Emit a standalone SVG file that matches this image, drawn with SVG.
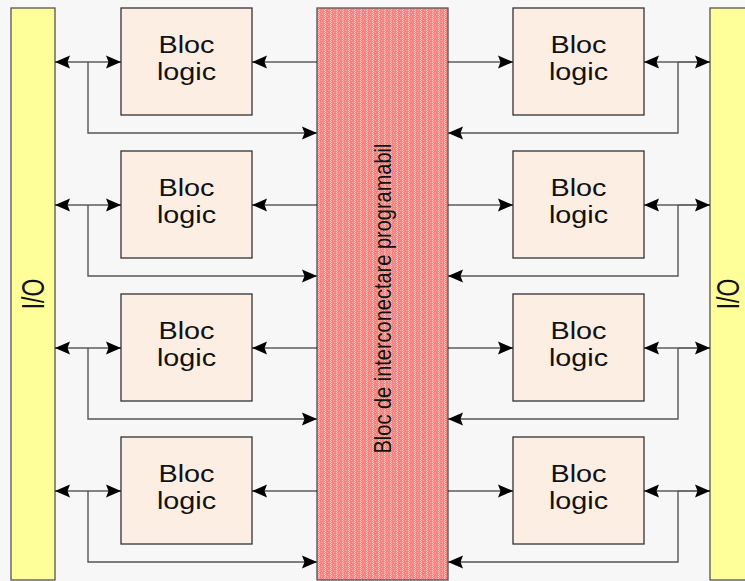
<svg xmlns="http://www.w3.org/2000/svg" width="745" height="581" viewBox="0 0 745 581">
<defs>
<style>
.io{fill:#ffff99;stroke:#555;stroke-width:1.3}
.blk{fill:#fdeee4;stroke:#333;stroke-width:1.3}
.bt{font-family:"Liberation Sans",Arial,sans-serif;font-size:24px;fill:#111;text-anchor:middle}
.iot{font-family:"Liberation Sans",Arial,sans-serif;font-size:23px;fill:#111;text-anchor:middle}
.ct{font-family:"Liberation Sans",Arial,sans-serif;font-size:20px;fill:#111;text-anchor:middle}
.ln{fill:none;stroke:#111;stroke-width:1.2}
.fb{fill:none;stroke:#555;stroke-width:1.4}
</style>
<marker id="ah" markerUnits="userSpaceOnUse" markerWidth="16" markerHeight="14" refX="15" refY="7" orient="auto">
<path d="M0,0.5 L15,7 L0,13.5 L2.5,7 Z" fill="#000"/>
</marker>
<pattern id="dots" width="6" height="4" patternUnits="userSpaceOnUse">
<rect width="6" height="4" fill="#ff8080"/>
<rect x="0" y="0" width="1" height="1" fill="#ffc4c4"/>
<rect x="1" y="1" width="1" height="1" fill="#ffc4c4"/>
<rect x="0" y="2" width="1" height="1" fill="#ffc4c4"/>
<rect x="1" y="3" width="1" height="1" fill="#ffc4c4"/>
<rect x="3" y="0" width="1" height="1" fill="#ffa8a8"/>
<rect x="4" y="2" width="1" height="1" fill="#ffa8a8"/>
</pattern>
</defs>
<rect width="745" height="581" fill="#f7f7f7"/>

<g id="io-left">
<rect class="io" x="11" y="8" width="44" height="572"/>
<text class="iot" transform="translate(43.5,294) rotate(-90) scale(1,1.4)">I/O</text>
</g>
<g id="io-right">
<rect class="io" x="710" y="8" width="44" height="572"/>
<text class="iot" transform="translate(739,294) rotate(-90) scale(1,1.4)">I/O</text>
</g>
<g id="interconnect">
<rect x="317" y="8" width="131" height="572" fill="url(#dots)" stroke="#555" stroke-width="1.3"/>
<text class="ct" transform="translate(391,298.5) rotate(-90) scale(1,1.2)">Bloc de interconectare programabil</text>
</g>

<g id="bl1"><rect class="blk" x="121" y="8" width="131" height="107"/>
<text class="bt" transform="translate(186.5,53.3) scale(1.2,1)">Bloc</text><text class="bt" transform="translate(186.5,80) scale(1.2,1)">logic</text></g>
<g id="bl2"><rect class="blk" x="121" y="151" width="131" height="107"/>
<text class="bt" transform="translate(186.5,196.3) scale(1.2,1)">Bloc</text><text class="bt" transform="translate(186.5,223) scale(1.2,1)">logic</text></g>
<g id="bl3"><rect class="blk" x="121" y="294" width="131" height="107"/>
<text class="bt" transform="translate(186.5,339.3) scale(1.2,1)">Bloc</text><text class="bt" transform="translate(186.5,366) scale(1.2,1)">logic</text></g>
<g id="bl4"><rect class="blk" x="121" y="437" width="131" height="107"/>
<text class="bt" transform="translate(186.5,482.3) scale(1.2,1)">Bloc</text><text class="bt" transform="translate(186.5,509) scale(1.2,1)">logic</text></g>
<g id="br1"><rect class="blk" x="513" y="8" width="131" height="107"/>
<text class="bt" transform="translate(578.5,53.3) scale(1.2,1)">Bloc</text><text class="bt" transform="translate(578.5,80) scale(1.2,1)">logic</text></g>
<g id="br2"><rect class="blk" x="513" y="151" width="131" height="107"/>
<text class="bt" transform="translate(578.5,196.3) scale(1.2,1)">Bloc</text><text class="bt" transform="translate(578.5,223) scale(1.2,1)">logic</text></g>
<g id="br3"><rect class="blk" x="513" y="294" width="131" height="107"/>
<text class="bt" transform="translate(578.5,339.3) scale(1.2,1)">Bloc</text><text class="bt" transform="translate(578.5,366) scale(1.2,1)">logic</text></g>
<g id="br4"><rect class="blk" x="513" y="437" width="131" height="107"/>
<text class="bt" transform="translate(578.5,482.3) scale(1.2,1)">Bloc</text><text class="bt" transform="translate(578.5,509) scale(1.2,1)">logic</text></g>

<g id="connectors">
<path class="ln" d="M88,62 H55" marker-end="url(#ah)"/>
<path class="ln" d="M88,62 H121" marker-end="url(#ah)"/>
<path class="ln" d="M317,62 H252" marker-end="url(#ah)"/>
<path class="fb" d="M88,62 V133 H317" marker-end="url(#ah)"/>
<path class="ln" d="M448,62 H513" marker-end="url(#ah)"/>
<path class="ln" d="M678,62 H644" marker-end="url(#ah)"/>
<path class="ln" d="M678,62 H710" marker-end="url(#ah)"/>
<path class="fb" d="M678,62 V133 H448" marker-end="url(#ah)"/>
<path class="ln" d="M88,205 H55" marker-end="url(#ah)"/>
<path class="ln" d="M88,205 H121" marker-end="url(#ah)"/>
<path class="ln" d="M317,205 H252" marker-end="url(#ah)"/>
<path class="fb" d="M88,205 V276 H317" marker-end="url(#ah)"/>
<path class="ln" d="M448,205 H513" marker-end="url(#ah)"/>
<path class="ln" d="M678,205 H644" marker-end="url(#ah)"/>
<path class="ln" d="M678,205 H710" marker-end="url(#ah)"/>
<path class="fb" d="M678,205 V276 H448" marker-end="url(#ah)"/>
<path class="ln" d="M88,348 H55" marker-end="url(#ah)"/>
<path class="ln" d="M88,348 H121" marker-end="url(#ah)"/>
<path class="ln" d="M317,348 H252" marker-end="url(#ah)"/>
<path class="fb" d="M88,348 V419 H317" marker-end="url(#ah)"/>
<path class="ln" d="M448,348 H513" marker-end="url(#ah)"/>
<path class="ln" d="M678,348 H644" marker-end="url(#ah)"/>
<path class="ln" d="M678,348 H710" marker-end="url(#ah)"/>
<path class="fb" d="M678,348 V419 H448" marker-end="url(#ah)"/>
<path class="ln" d="M88,491 H55" marker-end="url(#ah)"/>
<path class="ln" d="M88,491 H121" marker-end="url(#ah)"/>
<path class="ln" d="M317,491 H252" marker-end="url(#ah)"/>
<path class="fb" d="M88,491 V562 H317" marker-end="url(#ah)"/>
<path class="ln" d="M448,491 H513" marker-end="url(#ah)"/>
<path class="ln" d="M678,491 H644" marker-end="url(#ah)"/>
<path class="ln" d="M678,491 H710" marker-end="url(#ah)"/>
<path class="fb" d="M678,491 V562 H448" marker-end="url(#ah)"/>
</g>
</svg>
